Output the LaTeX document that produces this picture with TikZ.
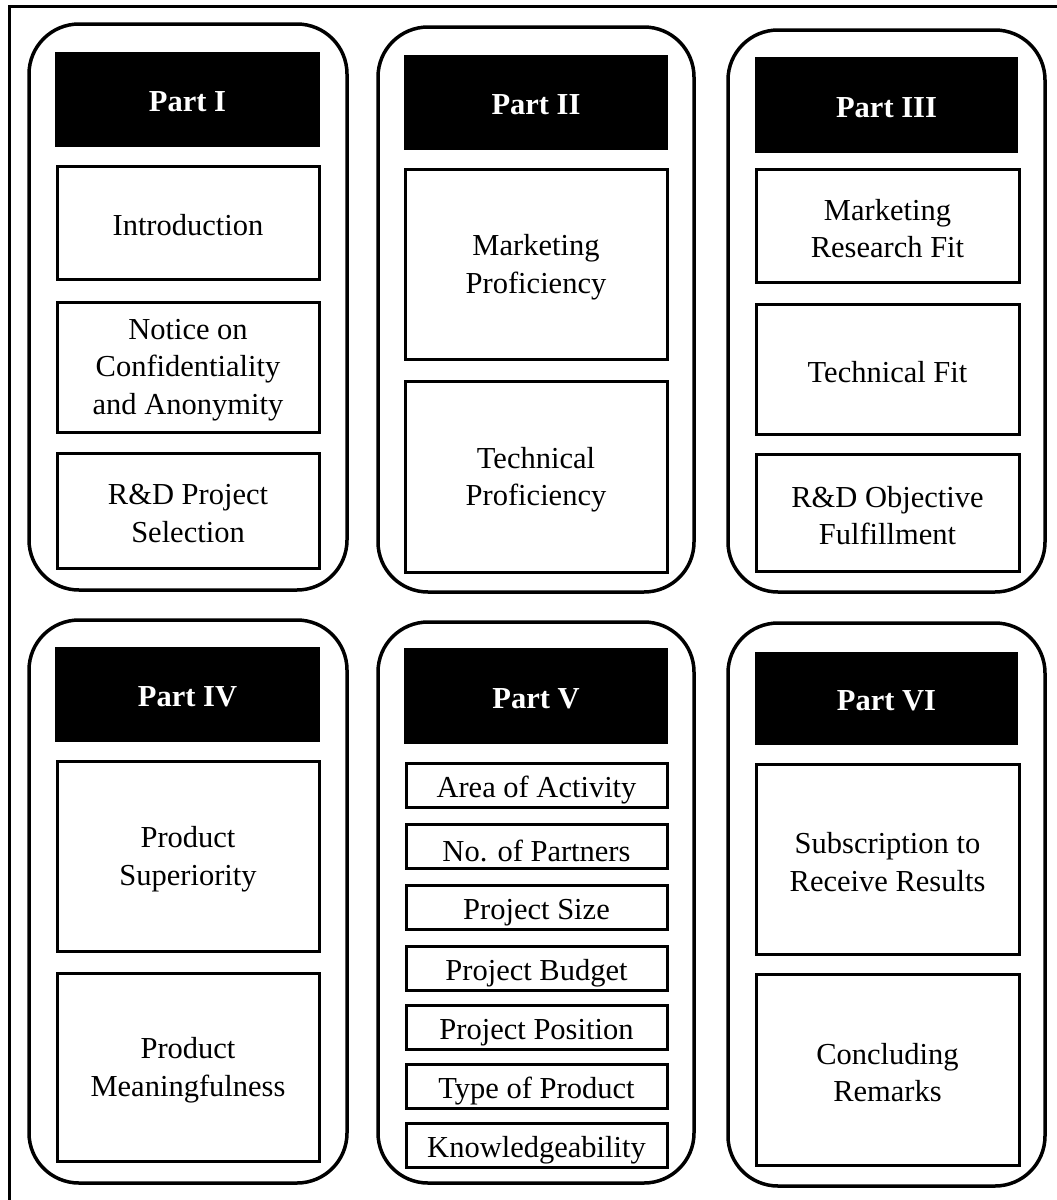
\documentclass[tikz,border=0pt]{standalone}
\usepackage{fontspec}
\setmainfont{Liberation Serif}
\begin{document}
\begin{tikzpicture}[x=1pt,y=-1pt,
  container/.style={draw=black,line width=3.5pt,rounded corners=50pt},
  headtext/.style={text=white,inner sep=0pt,font=\fontsize{30.5}{37.5}\selectfont\bfseries,yshift=-2.5pt},
  header/.style={fill=black,inner sep=0pt,label={[headtext]center:{#1}}},
  itemtext/.style={inner sep=0pt,align=center,font=\fontsize{30.5}{37.5}\selectfont,yshift=-3pt},
  smalltext/.style={itemtext,yshift=-2pt},
  item/.style={draw=black,fill=white,line width=3pt,inner sep=0pt,label={[itemtext]center:{#1}}},
  small/.style={draw=black,fill=white,line width=3pt,inner sep=0pt,minimum width=261pt,minimum height=44pt,label={[smalltext]center:{#1}}}]
\useasboundingbox (0,0) rectangle (1057,1200);
\clip (0,0) rectangle (1057,1200);
% outer frame (runs past the right and bottom edges)
\draw[line width=3pt] (9,1230) -- (9,6) -- (1090,6);

% six rounded panels
\draw[container] (29,24) rectangle (347,590);
\draw[container] (378,27) rectangle (694,592);
\draw[container] (728,30) rectangle (1045,592);
\draw[container] (29,620) rectangle (347,1183);
\draw[container] (378,622) rectangle (694,1183);
\draw[container] (728,623) rectangle (1045,1186);

% Part I
\node[header={Part I},minimum width=265pt,minimum height=95pt] (h1) at (187.5,99.5) {};
\node[item={Introduction},minimum width=262pt,minimum height=113pt] (intro) at (188,222.5) {};
\node[item={Notice on\\Confidentiality\\and Anonymity},minimum width=262pt,minimum height=130pt] (notice) at (188,367) {};
\node[item={R\&D Project\\Selection},minimum width=262pt,minimum height=115pt] (rdsel) at (188,510.5) {};

% Part II
\node[header={Part II},minimum width=264pt,minimum height=95pt] (h2) at (536,102.5) {};
\node[item={Marketing\\Proficiency},minimum width=262pt,minimum height=190pt] (mprof) at (536,264) {};
\node[item={Technical\\Proficiency},minimum width=262pt,minimum height=191pt] (tprof) at (536,476.5) {};

% Part III
\node[header={Part III},minimum width=263pt,minimum height=96pt] (h3) at (886.5,105) {};
\node[item={Marketing\\Research Fit},minimum width=263pt,minimum height=113pt] (mrfit) at (887.5,225.5) {};
\node[item={Technical Fit},minimum width=263pt,minimum height=130pt] (tfit) at (887.5,369) {};
\node[item={R\&D Objective\\Fulfillment},minimum width=263pt,minimum height=117pt] (rdobj) at (887.5,512.5) {};

% Part IV
\node[header={Part IV},minimum width=265pt,minimum height=95pt] (h4) at (187.5,694.5) {};
\node[item={Product\\Superiority},minimum width=262pt,minimum height=190pt] (psup) at (188,856) {};
\node[item={Product\\Meaningfulness},minimum width=262pt,minimum height=188pt] (pmean) at (188,1067) {};

% Part V
\node[header={Part V},minimum width=264pt,minimum height=96pt] (h5) at (536,696) {};
\node[small={Area of Activity}] (area) at (536.5,785.5) {};
\node[small={No. of Partners}] (partners) at (536.5,846) {};
\node[small={Project Size}] (psize) at (536.5,907.5) {};
\node[small={Project Budget}] (pbudget) at (536.5,968.5) {};
\node[small={Project Position}] (pposition) at (536.5,1027.5) {};
\node[small={Type of Product}] (ptype) at (536.5,1086.5) {};
\node[small={Knowledgeability}] (know) at (536.5,1145.5) {};

% Part VI
\node[header={Part VI},minimum width=263pt,minimum height=93pt] (h6) at (886.5,698.5) {};
\node[item={Subscription to\\Receive Results},minimum width=263pt,minimum height=190pt] (subs) at (887.5,859) {};
\node[item={Concluding\\Remarks},minimum width=263pt,minimum height=191pt] (concl) at (887.5,1069.5) {};
\end{tikzpicture}
\end{document}
